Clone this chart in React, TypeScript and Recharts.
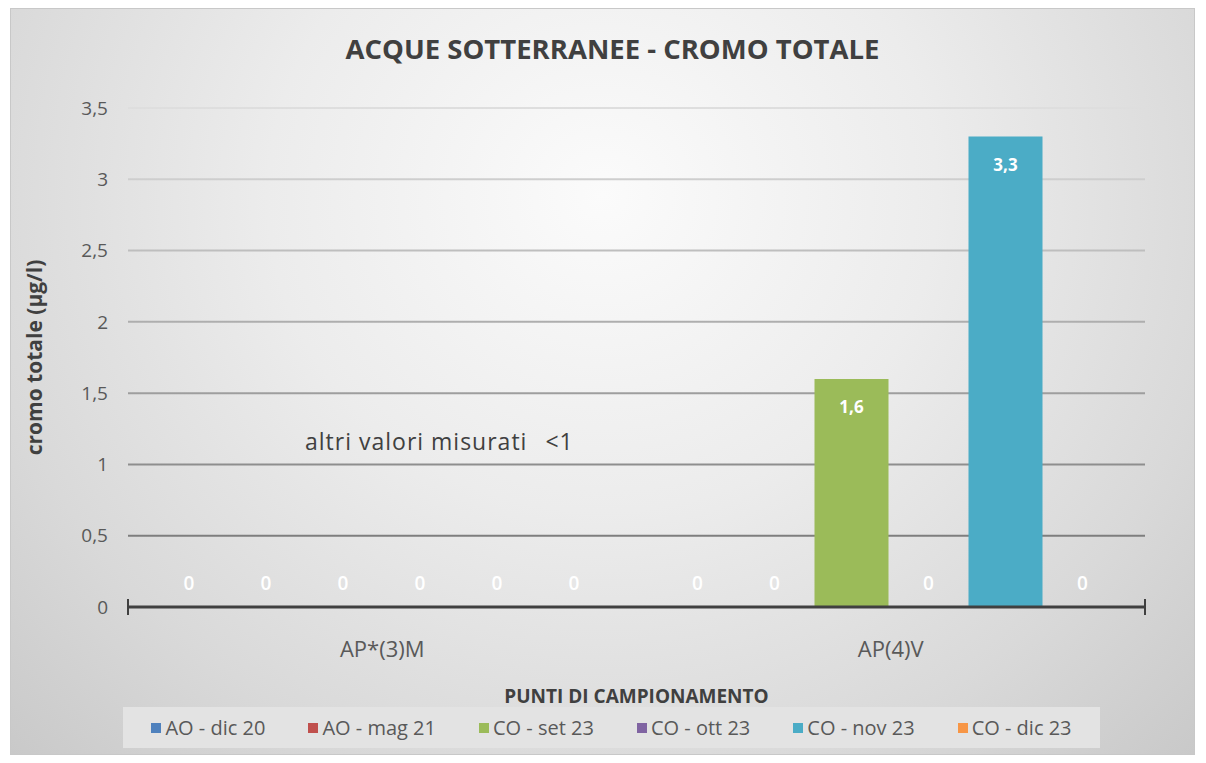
import { BarChart, Bar, XAxis, YAxis, CartesianGrid, Legend, LabelList, ReferenceLine } from "recharts";

const points = ["AP*(3)M", "AP(4)V"];
const aoDic20 = [0, 0];
const aoMag21 = [0, 0];
const coSet23 = [0, 1.6];
const coOtt23 = [0, 0];
const coNov23 = [0, 3.3];
const coDic23 = [0, 0];
const yTicks = [0, 0.5, 1, 1.5, 2, 2.5, 3, 3.5];
const separators = [0, 1, 2];

const series = [
  { key: "aoDic20", name: "AO - dic 20", color: "#4F81BD", values: aoDic20 },
  { key: "aoMag21", name: "AO - mag 21", color: "#C0504D", values: aoMag21 },
  { key: "coSet23", name: "CO - set 23", color: "#9BBB59", values: coSet23 },
  { key: "coOtt23", name: "CO - ott 23", color: "#8064A2", values: coOtt23 },
  { key: "coNov23", name: "CO - nov 23", color: "#4BACC6", values: coNov23 },
  { key: "coDic23", name: "CO - dic 23", color: "#F79646", values: coDic23 },
];

const data = points.map((p, i) => {
  const row: Record<string, any> = { point: p };
  series.forEach((s) => (row[s.key] = s.values[i]));
  return row;
});

const font = "'Open Sans', sans-serif";
const fmt = (v: number) => String(v).replace(".", ",");

const renderValue = (props: any) => {
  const { x, y, width, value } = props;
  const cx = x + width / 2;
  if (!value) {
    return (
      <text x={cx} y={y - 17} fill="#ffffff" textAnchor="middle" fontSize={19} fontWeight={600} fontFamily={font}>
        0
      </text>
    );
  }
  return (
    <text x={cx} y={y + 34} fill="#ffffff" textAnchor="middle" fontSize={17} fontWeight="bold" fontFamily={font}>
      {fmt(value)}
    </text>
  );
};

function LegendBox({ payload }: any) {
  const items = series.map((s) => (payload || []).find((p: any) => p.value === s.name)).filter(Boolean);
  return (
    <div
      style={{
        background: "#e3e3e3",
        height: 41,
        display: "flex",
        alignItems: "center",
        justifyContent: "center",
        gap: 43,
        fontFamily: font,
        fontSize: 20,
        color: "#595959",
      }}
    >
      {items.map((p: any) => (
        <span key={p.value} style={{ display: "flex", alignItems: "center" }}>
          <span style={{ display: "inline-block", width: 10, height: 10, background: p.color, marginRight: 4 }} />
          {p.value}
        </span>
      ))}
    </div>
  );
}

export default function App() {
  return (
    <div style={{ position: "absolute", left: 0, top: 0, width: 1206, height: 763, background: "#ffffff" }}>
      <div
        style={{
          position: "absolute",
          left: 10,
          top: 8,
          width: 1185,
          height: 747,
          boxSizing: "border-box",
          border: "1px solid #c8c8c8",
          background: "radial-gradient(ellipse at 50% 25%, #fbfbfb 0%, #ececec 40%, #d9d9d9 75%, #c9c9c9 100%)",
        }}
      />
      <div
        style={{
          position: "absolute",
          left: 10,
          width: 1205,
          top: 35,
          lineHeight: 1,
          textAlign: "center",
          fontFamily: font,
          fontWeight: "bold",
          fontSize: 27.5,
          color: "#404040",
        }}
      >
        ACQUE SOTTERRANEE - CROMO TOTALE
      </div>
      <div style={{ position: "absolute", left: 0, top: 0 }}>
        <BarChart
          width={1206}
          height={763}
          data={data}
          margin={{ top: 108, right: 61, bottom: 56, left: 0 }}
          barCategoryGap={24}
          barGap={3}
        >
          <defs>
            <linearGradient id="gridFade" gradientUnits="userSpaceOnUse" x1="0" y1="108" x2="0" y2="607">
              <stop offset="0%" stopColor="#dedede" />
              <stop offset="100%" stopColor="#6e6e6e" />
            </linearGradient>
          </defs>
          <CartesianGrid vertical={false} stroke="url(#gridFade)" strokeWidth={2} />
          <XAxis
            dataKey="point"
            height={100}
            tickSize={0}
            tickMargin={34}
            axisLine={{ stroke: "#404040", strokeWidth: 3 }}
            tick={{ fill: "#595959", fontSize: 22, fontFamily: font }}
            label={{
              value: "PUNTI DI CAMPIONAMENTO",
              position: "insideBottom",
              offset: 4,
              style: { fill: "#404040", fontSize: 19, fontWeight: "bold", fontFamily: font },
            }}
          />
          <XAxis xAxisId="sep" type="number" domain={[0, 2]} hide />
          <YAxis
            width={128}
            domain={[0, 3.5]}
            ticks={yTicks}
            tickFormatter={fmt}
            axisLine={false}
            tickSize={0}
            tickMargin={20}
            tick={{ fill: "#595959", fontSize: 19, fontFamily: font }}
            label={{
              value: "cromo totale (µg/l)",
              angle: -90,
              position: "insideLeft",
              offset: 35,
              style: { textAnchor: "middle", fill: "#404040", fontSize: 21, fontWeight: "bold", fontFamily: font },
            }}
          />
          {separators.map((s) => (
            <ReferenceLine
              key={s}
              xAxisId="sep"
              x={s}
              shape={(p: any) => {
                const b = Math.max(p.y1, p.y2);
                return <line x1={p.x1} x2={p.x1} y1={b - 8} y2={b + 8} stroke="#404040" strokeWidth={2} />;
              }}
            />
          ))}
          <Legend
            verticalAlign="middle"
            align="center"
            content={<LegendBox />}
            wrapperStyle={{ left: 123, top: 707, width: 977 }}
          />
          {series.map((s) => (
            <Bar key={s.key} dataKey={s.key} name={s.name} fill={s.color} minPointSize={0.01} isAnimationActive={false}>
              <LabelList dataKey={s.key} content={renderValue} />
            </Bar>
          ))}
        </BarChart>
      </div>
      <div
        style={{
          position: "absolute",
          left: 305,
          top: 430,
          lineHeight: 1,
          fontFamily: font,
          fontSize: 23,
          letterSpacing: 1,
          color: "#404040",
          whiteSpace: "pre",
        }}
      >
        altri valori misurati<span style={{ marginLeft: 18 }}>{"<1"}</span>
      </div>
    </div>
  );
}
